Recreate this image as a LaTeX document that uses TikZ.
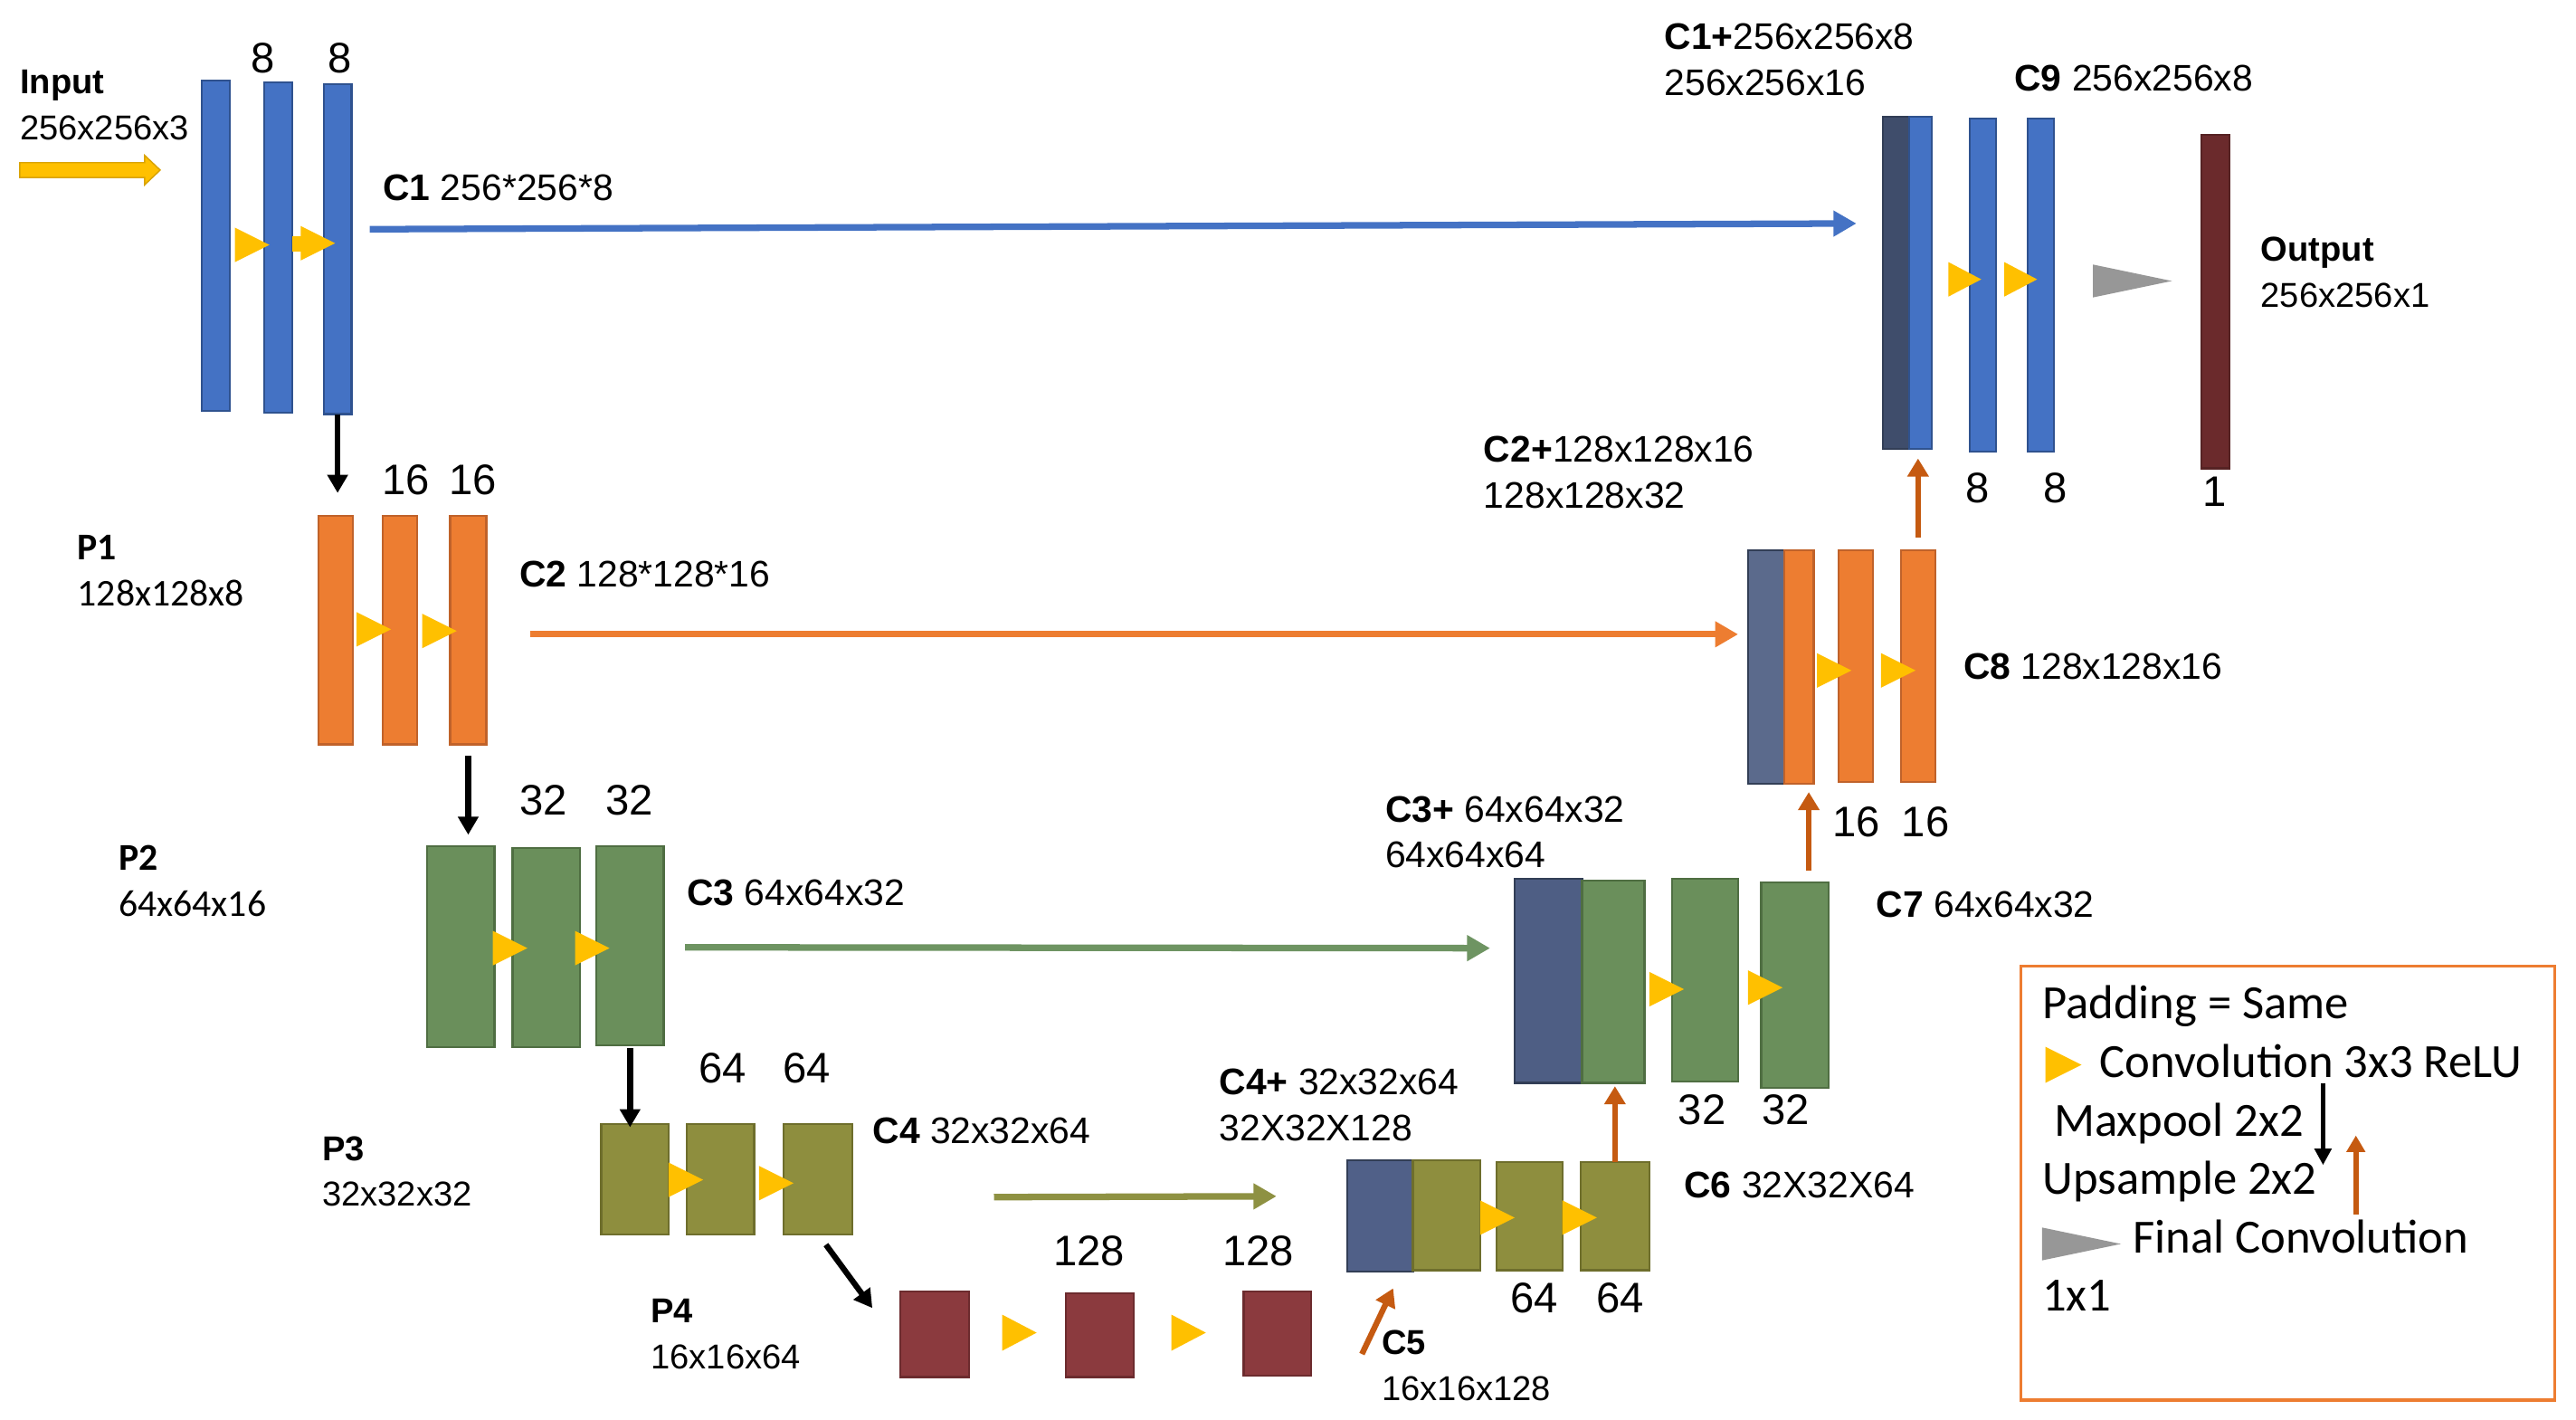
\documentclass[tikz,border=0pt]{standalone}
\usepackage{fontspec}
\setmainfont{Liberation Sans}
\newfontfamily\carl{Carlito}
\usetikzlibrary{arrows.meta}
\definecolor{cblue}{HTML}{4472C4}
\definecolor{cblueD}{HTML}{2F528F}
\definecolor{cnavyA}{HTML}{3F4D6B}
\definecolor{cnavyB}{HTML}{5B6A8C}
\definecolor{cnavyC}{HTML}{4E5E84}
\definecolor{cnavyD}{HTML}{506088}
\definecolor{corange}{HTML}{ED7D31}
\definecolor{corangeD}{HTML}{C0622A}
\definecolor{cgreen}{HTML}{6A8F5B}
\definecolor{cgreenD}{HTML}{4F6E42}
\definecolor{colive}{HTML}{8E8E3E}
\definecolor{coliveD}{HTML}{6E6E2C}
\definecolor{cred}{HTML}{8B3A3E}
\definecolor{credD}{HTML}{6C2B2E}
\definecolor{cout}{HTML}{6B2A2C}
\definecolor{cyel}{HTML}{FFC000}
\definecolor{cyelD}{HTML}{D9A300}
\definecolor{cgray}{HTML}{979797}
\definecolor{cup}{HTML}{C55A11}
\definecolor{cgline}{HTML}{6E9462}
\definecolor{coline}{HTML}{8E9142}
\newcommand\mkbar[6]{\node[#2,minimum width={#5-#3},minimum height={#6-#4}] (#1) at ({(#3+#5)/2},{(#4+#6)/2}) {};}
\newcommand\ctri[5]{\fill[#5] ({#1},{#2-(#4)/2}) -- ({#1+#3},{#2}) -- ({#1},{#2+(#4)/2}) -- cycle;}
\tikzset{
 bar/.style={rectangle,inner sep=0pt,outer sep=0pt,line width=1.2pt},
 bblue/.style={bar,fill=cblue,draw=cblueD},
 borange/.style={bar,fill=corange,draw=corangeD},
 bgreen/.style={bar,fill=cgreen,draw=cgreenD},
 bolive/.style={bar,fill=colive,draw=coliveD},
 bred/.style={bar,fill=cred,draw=credD},
 bnavy/.style={bar,fill=#1,draw=cnavyA!80!black},
 lbl/.style={inner sep=0pt,anchor=west,yshift=-4.5pt,text height=0.72em,text depth=0pt,font=\fontsize{22.5}{27}\selectfont},
 lbls/.style={lbl,font=\fontsize{21}{25}\selectfont},
 lblc/.style={lbl,font=\carl\fontsize{23}{27}\selectfont,text height=0.64em},
 lgd/.style={lbl,font=\carl\fontsize{29}{34}\selectfont,text height=0.64em},
 num/.style={inner sep=0pt,yshift=-4.5pt,text height=0.72em,text depth=0pt,font=\fontsize{26}{30}\selectfont},
 skip/.style={line width=4pt,draw=#1,-{Triangle[length=14pt,width=15pt]}},
 pool/.style={line width=3.5pt,draw=black,-{Triangle[length=11pt,width=12pt]}},
 ups/.style={line width=3.5pt,draw=cup,-{Triangle[length=11pt,width=12.5pt]}},
}
\begin{document}
\begin{tikzpicture}[x=1pt,y=-1pt]
\fill[white] (0,0) rectangle (1568,863.6);
\useasboundingbox (0,0) rectangle (1568,863.6);
% ---------- bars ----------
\mkbar{b11}{bblue}{123}{49}{140}{250}
\mkbar{b12}{bblue}{161}{50}{178}{251}
\mkbar{b13}{bblue}{197}{51}{214}{252}
\mkbar{c1d}{bnavy=cnavyA}{1146}{71}{1162}{273}
\mkbar{c1b}{bblue}{1162}{71}{1176}{273}
\mkbar{c9a}{bblue}{1199}{72}{1215}{275}
\mkbar{c9b}{bblue}{1234}{72}{1250}{275}
\node[bar,fill=cout,draw=cout!80!black,minimum width=17,minimum height=203] (outb) at (1348.5,183.5) {};
\mkbar{o1}{borange}{194}{314}{215}{453}
\mkbar{o2}{borange}{233}{314}{254}{453}
\mkbar{o3}{borange}{274}{314}{296}{453}
\mkbar{c2d}{bnavy=cnavyB}{1064}{335}{1086}{477}
\mkbar{c2o}{borange}{1086}{335}{1104}{477}
\mkbar{c8a}{borange}{1119}{335}{1140}{476}
\mkbar{c8b}{borange}{1157}{335}{1178}{476}
\mkbar{g1}{bgreen}{260}{515}{301}{637}
\mkbar{g2}{bgreen}{312}{516}{353}{637}
\mkbar{g3}{bgreen}{363}{515}{404}{636}
\mkbar{c3d}{bnavy=cnavyC}{922}{535}{963}{659}
\mkbar{c3g}{bgreen}{963}{536}{1001}{659}
\mkbar{c7a}{bgreen}{1018}{535}{1058}{658}
\mkbar{c7b}{bgreen}{1072}{537}{1113}{662}
\mkbar{ol1}{bolive}{366}{684}{407}{751}
\mkbar{ol2}{bolive}{418}{684}{459}{751}
\mkbar{ol3}{bolive}{477}{684}{519}{751}
\mkbar{c4d}{bnavy=cnavyD}{820}{706}{860}{774}
\mkbar{c4o}{bolive}{860}{706}{901}{773}
\mkbar{c6a}{bolive}{911}{707}{951}{773}
\mkbar{c6b}{bolive}{962}{707}{1004}{773}
\mkbar{r1}{bred}{548}{786}{590}{838}
\mkbar{r2}{bred}{649}{787}{690}{838}
\mkbar{r3}{bred}{757}{786}{798}{837}
% ---------- convolution triangles ----------
\ctri{143}{149}{21}{21}{cyel}
\fill[cyel] (178,144) rectangle (185,153);
\ctri{183}{148}{21}{21}{cyel}
\ctri{1186}{170}{20}{21}{cyel}
\ctri{1220}{170}{20}{21}{cyel}
\ctri{1274}{171}{48}{20}{cgray}
\ctri{217}{383}{21}{21}{cyel}
\ctri{257}{384}{21}{21}{cyel}
\ctri{1106}{408}{21}{21}{cyel}
\ctri{1145}{408}{21}{21}{cyel}
\ctri{300}{577}{21}{21}{cyel}
\ctri{350}{577}{21}{21}{cyel}
\ctri{1004}{602}{21}{21}{cyel}
\ctri{1064}{601}{21}{21}{cyel}
\ctri{407}{718}{21}{21}{cyel}
\ctri{462}{720}{21}{21}{cyel}
\ctri{901}{741}{21}{21}{cyel}
\ctri{951}{741}{21}{21}{cyel}
\ctri{610}{811}{21}{22}{cyel}
\ctri{713}{811}{21}{22}{cyel}
% ---------- input arrow ----------
\filldraw[fill=cyel,draw=cyelD,line width=0.8pt] (12,99) -- (88,99) -- (88,94.5) -- (97.5,103.5) -- (88,112.5) -- (88,108) -- (12,108) -- cycle;
% ---------- skip connections ----------
\draw[skip=cblue] ([xshift=11pt,yshift=12pt]b13.east) -- ([xshift=-16pt,yshift=36pt]c1d.west);
\draw[skip=corange] ([xshift=27pt,yshift=-2.5pt]o3.east) -- ([xshift=-6pt,yshift=20pt]c2d.west);
\draw[skip=cgline] ([xshift=13pt,yshift=-1pt]g3.east) -- ([xshift=-15pt,yshift=20pt]c3d.west);
\draw[skip=coline] ([xshift=86pt,yshift=-11pt]ol3.east) -- ([xshift=-43pt,yshift=12pt]c4d.west);
% ---------- maxpool ----------
\draw[pool,shorten >=14pt] (b13.south) -- (b13.south |- o1.north);
\draw[pool,shorten <=7pt,shorten >=7pt] (o3.south) -- (o3.south |- g1.north);
\draw[pool,shorten <=2pt,shorten >=-2pt] (g3.south) -- (g3.south |- ol1.north);
\draw[pool,shorten <=8pt] (ol3.south) -- ([xshift=-17pt,yshift=-10pt]r1.north west);
% ---------- upsample ----------
\draw[ups] ([xshift=31pt,yshift=-12.5pt]r3.east) -- ([xshift=8pt,yshift=-10pt]c4d.south);
\draw[ups,shorten >=2pt] (c6b.north) -- (c6b.north |- c3g.south);
\coordinate (u78) at (1101,530);
\draw[ups,shorten >=5pt] (u78) -- (u78 |- c2o.south);
\draw[ups,shorten <=8pt,shorten >=6pt] (c8b.north) -- (c8b.north |- c1b.south);
% ---------- labels ----------
\node[lbls] (tin1) at (12,49) {\textbf{Input}};
\node[lbls] (tin2) at (12,77) {256x256x3};
\node[num] (n11) at (160,36) {8};
\node[num] (n12) at (207,36) {8};
\node[lbl] (tc1) at (233,114) {\textbf{C1} 256*256*8};
\node[lbl] (tc1p) at (1013,22) {\textbf{C1+}256x256x8};
\node[lbl] (tc1p2) at (1013,50) {256x256x16};
\node[lbl] (tc9) at (1226,47) {\textbf{C9} 256x256x8};
\node[lbls] (tout1) at (1376,151) {\textbf{Output}};
\node[lbls] (tout2) at (1376,179) {256x256x1};
\node[num] (n91) at (1204,298) {8};
\node[num] (n92) at (1251,298) {8};
\node[num] (n93) at (1348,300) {1};
\node[lblc] (tp1) at (47,333) {\textbf{P1}};
\node[lblc] (tp12) at (47,361) {128x128x8};
\node[num] (n21) at (247,293) {16};
\node[num] (n22) at (288,293) {16};
\node[lbl] (tc2) at (316,349) {\textbf{C2} 128*128*16};
\node[lbl] (tc2p) at (903,273) {\textbf{C2+}128x128x16};
\node[lbl] (tc2p2) at (903,301) {128x128x32};
\node[lbl] (tc8) at (1195,405) {\textbf{C8} 128x128x16};
\node[num] (n81) at (1130,501) {16};
\node[num] (n82) at (1172,501) {16};
\node[lblc] (tp2) at (72,522) {\textbf{P2}};
\node[lblc] (tp22) at (72,550) {64x64x16};
\node[num] (n31) at (331,488) {32};
\node[num] (n32) at (383,488) {32};
\node[lbl] (tc3) at (418,543) {\textbf{C3} 64x64x32};
\node[lbl] (tc3p) at (843,492) {\textbf{C3+} 64x64x32};
\node[lbl] (tc3p2) at (843,520) {64x64x64};
\node[lbl] (tc7) at (1142,550) {\textbf{C7} 64x64x32};
\node[num] (n71) at (1036,676) {32};
\node[num] (n72) at (1087,676) {32};
\node[lbls] (tp3) at (196,698) {\textbf{P3}};
\node[lbls] (tp32) at (196,726) {32x32x32};
\node[num] (n41) at (440,651) {64};
\node[num] (n42) at (491,651) {64};
\node[lbl] (tc4) at (531,688) {\textbf{C4} 32x32x64};
\node[lbl] (tc4p) at (742,658) {\textbf{C4+} 32x32x64};
\node[lbl] (tc4p2) at (742,686) {32X32X128};
\node[lbl] (tc6) at (1025,721) {\textbf{C6} 32X32X64};
\node[num] (n61) at (934,791) {64};
\node[num] (n62) at (986,791) {64};
\node[lbls] (tp4) at (396,797) {\textbf{P4}};
\node[lbls] (tp42) at (396,825) {16x16x64};
\node[num] (n51) at (663,762) {128};
\node[num] (n52) at (766,762) {128};
\node[lbls] (tc5) at (841,816) {\textbf{C5}};
\node[lbls] (tc52) at (841,844) {16x16x128};
% ---------- legend ----------
\node[rectangle,draw=corange,line width=2pt,minimum width=325,minimum height=264,inner sep=0pt] (legend) at (1392.5,720) {};
\node[lgd] (lg1) at (1243,612) {Padding = Same};
\ctri{1245}{648}{22}{22}{cyel}
\node[lgd] (lg2) at (1278,648) {Convolution 3x3 ReLU};
\node[lgd] (lg3) at (1250,684) {Maxpool 2x2};
\node[lgd] (lg4) at (1243,719) {Upsample 2x2};
\ctri{1243}{757}{48}{20}{cgray}
\node[lgd] (lg5) at (1298,755) {Final Convolution};
\node[lgd] (lg6) at (1243,790) {1x1};
\coordinate (lgpa) at (1414,659);
\coordinate (lgpb) at (1414,709);
\coordinate (lgua) at (1434,739);
\coordinate (lgub) at (1434,691);
\draw[pool,line width=2.6pt,-{Triangle[length=10pt,width=10pt]}] (lgpa) -- (lgpb);
\draw[ups,line width=3.2pt,-{Triangle[length=10pt,width=11pt]}] (lgua) -- (lgub);
\end{tikzpicture}
\end{document}
